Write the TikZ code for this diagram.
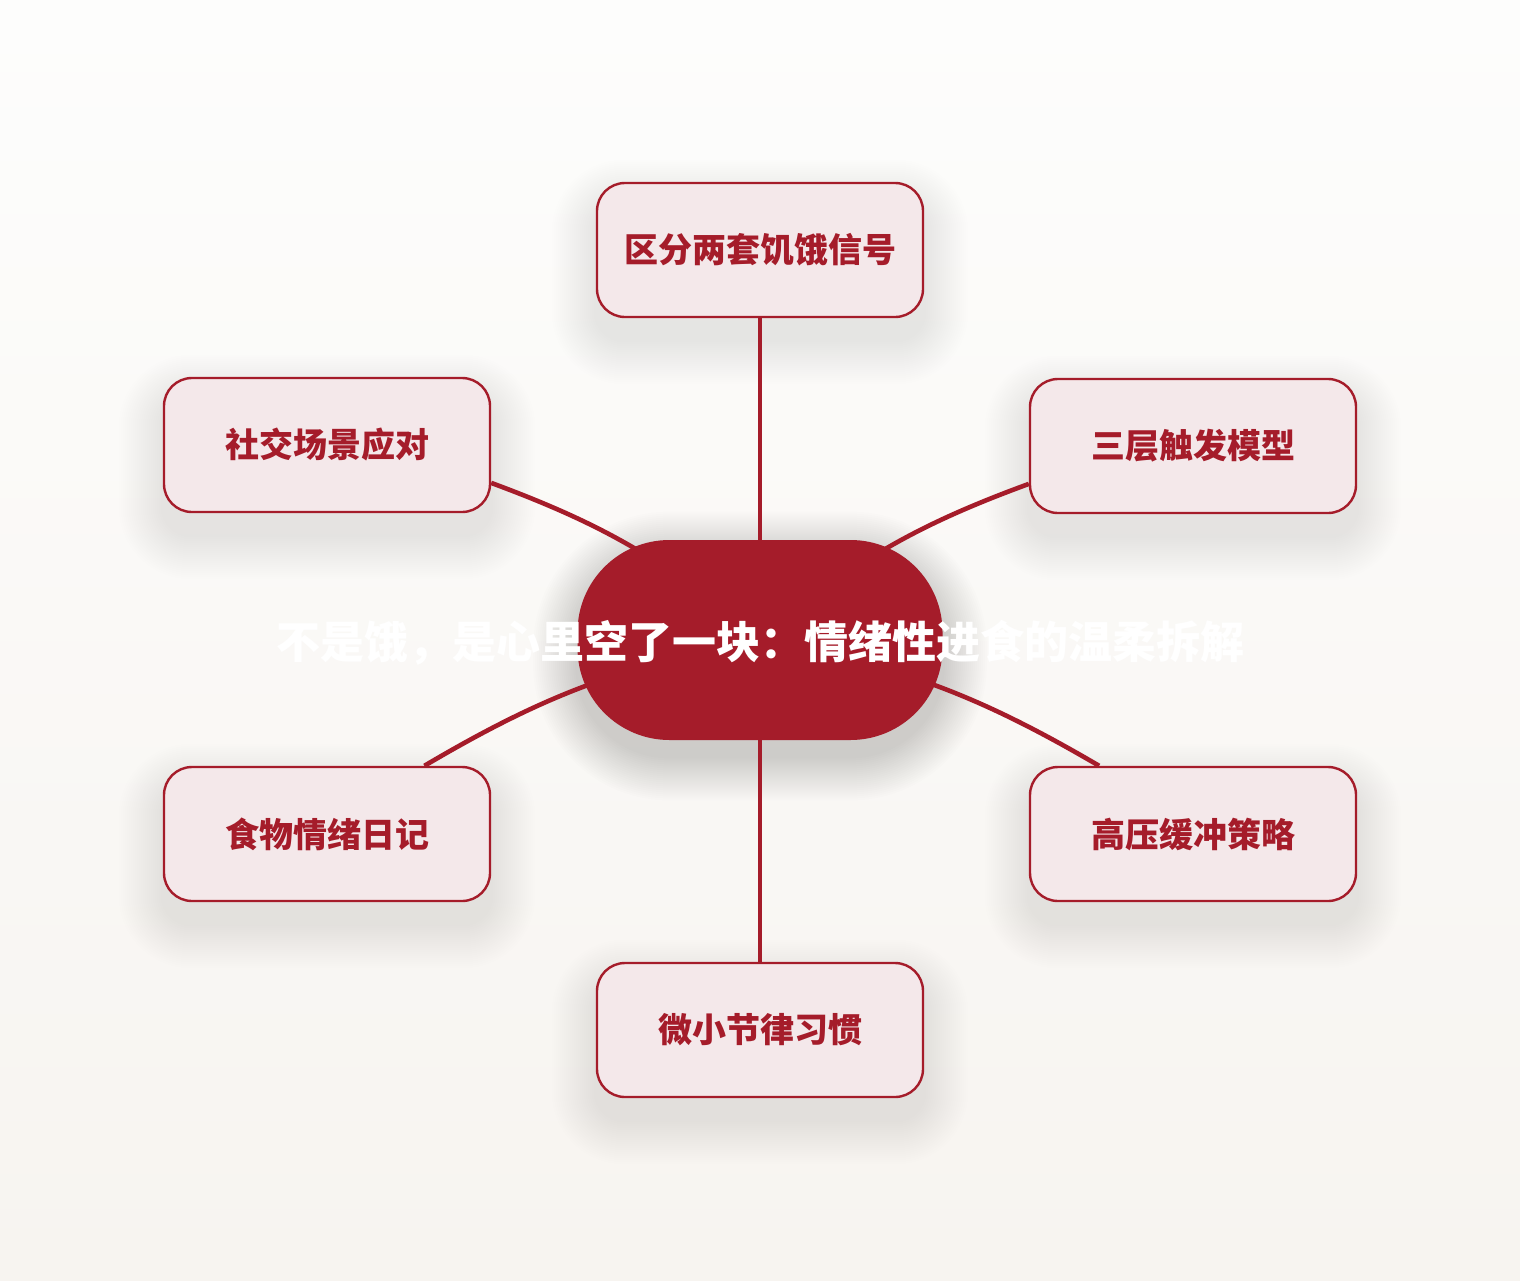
\documentclass[tikz,border=0pt]{standalone}
\usepackage{fontspec}
\setmainfont{Noto Sans CJK SC}
\usetikzlibrary{backgrounds}
\definecolor{deepred}{HTML}{A51C2A}
\definecolor{leaffill}{HTML}{F4E8EA}
\definecolor{paperhi}{HTML}{FDFDFC}
\definecolor{paperlo}{HTML}{F7F4F0}

\tikzset{
  hub/.style={fill=deepred, minimum width=182.5pt, minimum height=100pt, rounded corners=46pt},
  title/.style={text=white, font=\fontsize{22}{26}\selectfont\bfseries, inner sep=0pt},
  leaf/.style={draw=deepred, line width=1.2pt, fill=leaffill, rounded corners=14pt,
    minimum width=163pt, minimum height=67pt, inner sep=0pt, text=deepred,
    font=\fontsize{17}{20}\selectfont\bfseries},
  haze/.style={black, opacity=0.005},
  link/.style={draw=deepred, line width=2.3pt}
}

\begin{document}
\begin{tikzpicture}[x=0.5pt,y=-0.5pt]
  \node[hub] (c) at (760,640) {};
  \node[title] (t) at (760,643) {不是饿，是心里空了一块：情绪性进食的温柔拆解};
  \node[leaf] (top) at (760,250) {区分两套饥饿信号};
  \node[leaf] (lt) at (327,445) {社交场景应对};
  \node[leaf] (rt) at (1193,446) {三层触发模型};
  \node[leaf] (lb) at (327,834) {食物情绪日记};
  \node[leaf] (rb) at (1193,834) {高压缓冲策略};
  \node[leaf] (bot) at (760,1030) {微小节律习惯};
  \begin{scope}[on background layer]
    \fill[top color=paperhi, bottom color=paperlo] (0,0) rectangle (1520,1280);
    \foreach \n in {top,lt,rt,lb,rb,bot}
      \foreach \k in {1,...,22}
        \fill[haze, rounded corners=14pt+\k*1pt]
          ([shift={(-\k*1pt,\k*1pt-11pt)}]\n.north west) rectangle ([shift={(\k*1pt,-\k*1pt-11pt)}]\n.south east);
    \foreach \k in {1,...,22}
      \fill[haze, opacity=0.008, rounded corners=46pt+\k*1pt]
        ([shift={(-\k*1pt,\k*1pt-8pt)}]c.north west) rectangle ([shift={(\k*1pt,-\k*1pt-8pt)}]c.south east);
    \draw[link] (top) -- (c.center);
    \draw[link] (bot) -- (c.center);
    \draw[link] (lt.-13.5) to[bend left=10] (c.center);
    \draw[link] (lb.35.8) to[bend left=10] (c.center);
    \draw[link] (rt.193.5) to[bend right=10] (c.center);
    \draw[link] (rb.144.2) to[bend right=10] (c.center);
  \end{scope}
\end{tikzpicture}
\end{document}
